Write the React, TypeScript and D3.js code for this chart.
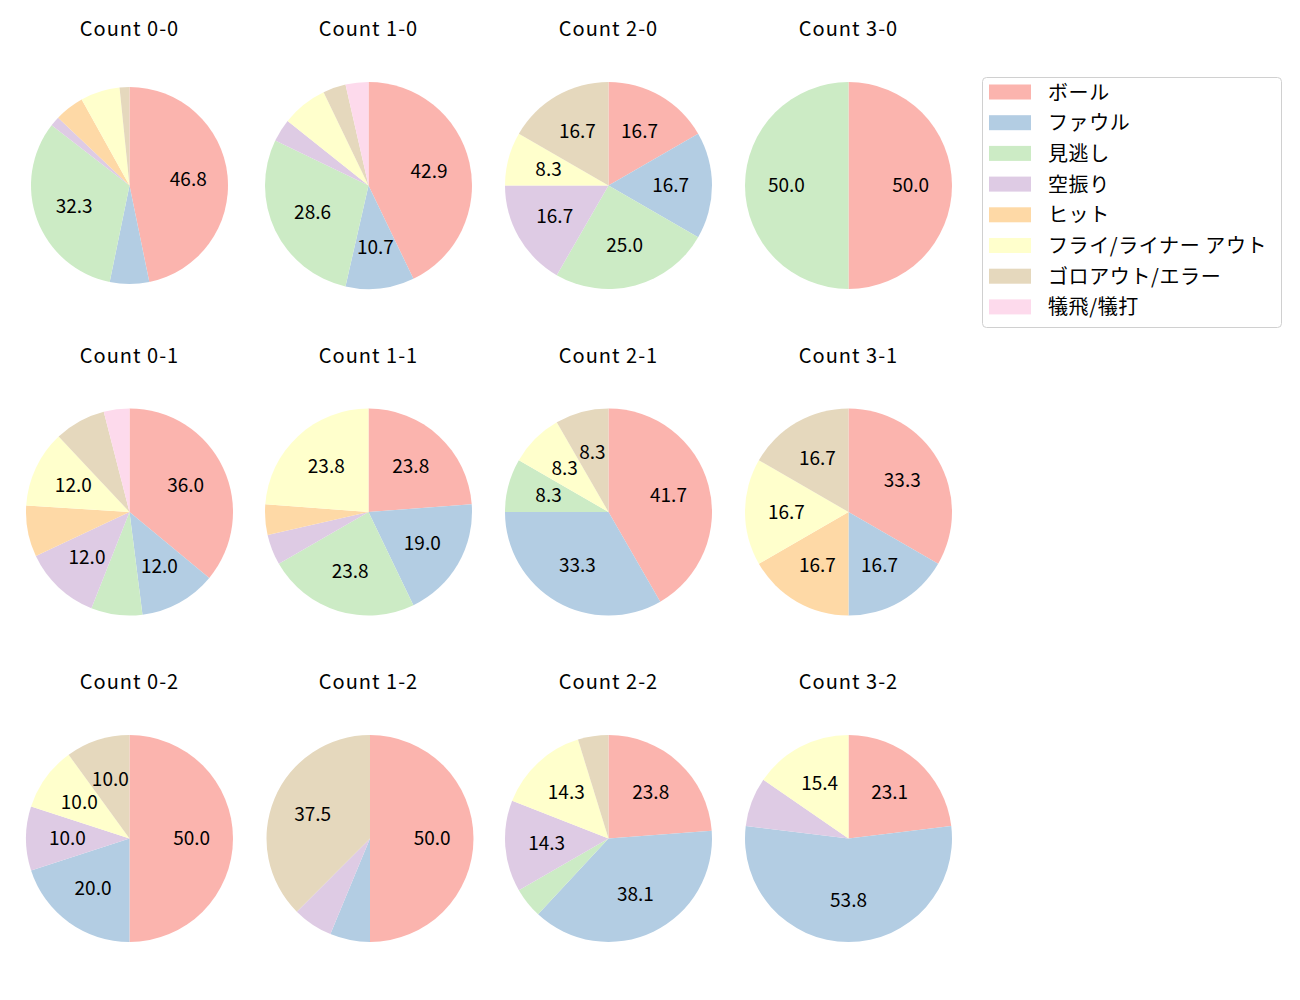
import React from "react";
import * as d3 from "d3";

const categories = ["ボール", "ファウル", "見逃し", "空振り", "ヒット", "フライ/ライナー アウト", "ゴロアウト/エラー", "犠飛/犠打"];
const colors = ["#fbb4ae", "#b3cde3", "#ccebc5", "#decbe4", "#fed9a6", "#ffffcc", "#e5d8bd", "#fddaec"];

const titles = [
  "Count 0-0", "Count 1-0", "Count 2-0", "Count 3-0",
  "Count 0-1", "Count 1-1", "Count 2-1", "Count 3-1",
  "Count 0-2", "Count 1-2", "Count 2-2", "Count 3-2",
];

// counts per category, same order as categories
const count00 = [29, 4, 20, 1, 3, 4, 1, 0];
const count10 = [12, 3, 8, 1, 0, 2, 1, 1];
const count20 = [2, 2, 3, 2, 0, 1, 2, 0];
const count30 = [1, 0, 1, 0, 0, 0, 0, 0];
const count01 = [9, 3, 2, 3, 2, 3, 2, 1];
const count11 = [5, 4, 5, 1, 1, 5, 0, 0];
const count21 = [5, 4, 1, 0, 0, 1, 1, 0];
const count31 = [2, 1, 0, 0, 1, 1, 1, 0];
const count02 = [5, 2, 0, 1, 0, 1, 1, 0];
const count12 = [8, 1, 0, 1, 0, 0, 6, 0];
const count22 = [5, 8, 1, 3, 0, 3, 1, 0];
const count32 = [3, 7, 0, 1, 0, 2, 0, 0];

const allCounts = [count00, count10, count20, count30, count01, count11, count21, count31, count02, count12, count22, count32];

// layout
const colX = [129.5, 368.5, 608.5, 848.5];
const rowY = [185.5, 512, 838.5];
const titleY = [36, 363, 689];
const baseR = 103.5;
const radiusOverride: Record<number, number> = { 0: 98.5 };
const centerXOverride: Record<number, number> = { 9: 370 };

const FONT = "'Noto Sans CJK JP', 'Noto Sans', sans-serif";

function Pie({ idx }: { idx: number }) {
  const counts = allCounts[idx];
  const total = d3.sum(counts);
  const col = idx % 4;
  const row = Math.floor(idx / 4);
  const cx = centerXOverride[idx] ?? colX[col];
  const cy = rowY[row];
  const r = radiusOverride[idx] ?? baseR;
  const data = counts.map((v, i) => ({ v, i }));
  const pie = d3.pie<{ v: number; i: number }>().value((d) => d.v).sort(null).startAngle(0).endAngle(2 * Math.PI);
  const arcs = pie(data);
  const arc = d3.arc<d3.PieArcDatum<{ v: number; i: number }>>().innerRadius(0).outerRadius(r);
  return (
    <g>
      <text x={colX[col]} y={titleY[row]} textAnchor="middle" fontSize={20} letterSpacing={1} fontFamily={FONT} fill="#000">
        {titles[idx]}
      </text>
      <g transform={`translate(${cx},${cy})`}>
        {arcs.filter((a) => a.data.v > 0).map((a) => (
          <path key={a.data.i} d={arc(a) || ""} fill={colors[a.data.i]} stroke="none" />
        ))}
        {arcs.filter((a) => a.data.v > 0).map((a) => {
          const pct = (a.data.v / total) * 100;
          if (pct <= 8.1) return null;
          const mid = (a.startAngle + a.endAngle) / 2;
          const d = r * 0.6;
          const x = Math.sin(mid) * d;
          const y = -Math.cos(mid) * d - 2;
          return (
            <text key={"t" + a.data.i} x={x} y={y} textAnchor="middle" dominantBaseline="central" fontSize={19} fontFamily={FONT} fill="#000">
              {pct.toFixed(1)}
            </text>
          );
        })}
      </g>
    </g>
  );
}

function Legend() {
  const x0 = 982, y0 = 77, w = 299, h = 250;
  const rowStep = 30.7;
  return (
    <g>
      <rect x={x0 + 0.5} y={y0 + 0.5} width={w} height={h} rx={4} fill="#fff" stroke="#d0d0d0" strokeWidth={1} />
      {categories.map((c, i) => {
        const yc = 92 + i * rowStep;
        return (
          <g key={c}>
            <rect x={989} y={yc - 7.5} width={42} height={15} fill={colors[i]} />
            <text x={1048} y={yc - 1} dominantBaseline="central" fontSize={20} letterSpacing={0.6} fontFamily={FONT} fill="#000">
              {c}
            </text>
          </g>
        );
      })}
    </g>
  );
}

export default function App() {
  return (
    <svg width={1300} height={1000} style={{ position: "absolute", left: 0, top: 0, background: "#fff" }}>
      <rect x={0} y={0} width={1300} height={1000} fill="#fff" />
      {titles.map((_, i) => (
        <Pie key={i} idx={i} />
      ))}
      <Legend />
    </svg>
  );
}
